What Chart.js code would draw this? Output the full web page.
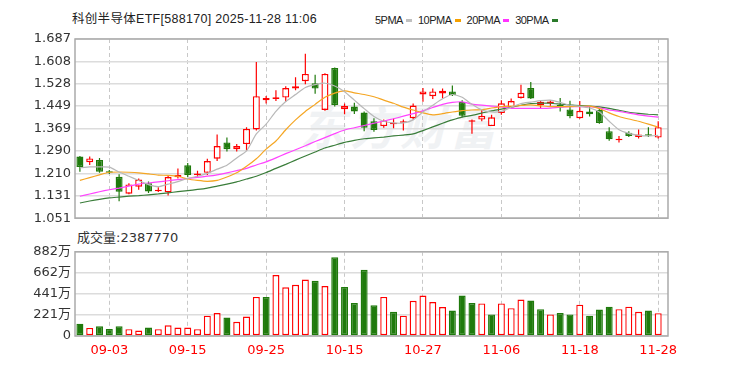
<!DOCTYPE html>
<html>
<head>
<meta charset="utf-8">
<script src="https://cdn.jsdelivr.net/npm/chart.js@4.4.1/dist/chart.umd.min.js"></script>
<style>
  body { margin: 0; background: #fff; width: 732px; height: 390px; overflow: hidden; position: relative; }
  .txt { position: absolute; white-space: nowrap; line-height: 1; color: #222; font-family: "Liberation Sans", "Noto Sans CJK SC", sans-serif; }
  #title { left: 72px; top: 13px; font-size: 12.5px; letter-spacing: 0.3px; }
  #legend { left: 375px; top: 15px; font-size: 11px; letter-spacing: -0.5px; }
  #legend i { display: inline-block; width: 6px; height: 3px; margin: 0 6px 2px 3px; vertical-align: middle; }
  #volLabel { left: 77px; top: 231px; font-size: 13px; font-family: "DejaVu Sans", "Noto Sans CJK SC", sans-serif; color: #333; }
  #mark { position: absolute; left: 300px; top: 92px; font: bold italic 46px "Noto Sans CJK SC", sans-serif; color: #f0f2f4; letter-spacing: 4px; }
  canvas { position: absolute; left: 0; }
  #priceChart { top: 0; }
  #volChart { top: 240px; }
</style>
</head>
<body>
<div id="mark">东方财富</div>
<div id="title" class="txt">科创半导体ETF[588170] 2025-11-28 11:06</div>
<div id="legend" class="txt">5PMA<i style="background:#c0c0c0"></i>10PMA<i style="background:#f5a000"></i>20PMA<i style="background:#ff33ff"></i>30PMA<i style="background:#2a7a2a"></i></div>
<div id="volLabel" class="txt">成交量:2387770</div>
<canvas id="priceChart" width="732" height="230"></canvas>
<canvas id="volChart" width="732" height="150"></canvas>
<script>
// 日期 (交易日)
const dates = ['08-29','09-01','09-02','09-03','09-04','09-05','09-08','09-09','09-10','09-11',
  '09-12','09-15','09-16','09-17','09-18','09-19','09-22','09-23','09-24','09-25',
  '09-26','09-29','09-30','10-09','10-10','10-13','10-14','10-15','10-16','10-17',
  '10-20','10-21','10-22','10-23','10-24','10-27','10-28','10-29','10-30','10-31',
  '11-03','11-04','11-05','11-06','11-07','11-10','11-11','11-12','11-13','11-14',
  '11-17','11-18','11-19','11-20','11-21','11-24','11-25','11-26','11-27','11-28'];

// K线
const opens = [1.270,1.250,1.258,1.218,1.198,1.138,1.163,1.175,1.147,1.143,
  1.196,1.239,1.204,1.212,1.262,1.320,1.296,1.314,1.366,1.470,
  1.474,1.479,1.511,1.537,1.530,1.435,1.584,1.438,1.447,1.426,
  1.395,1.378,1.384,1.390,1.406,1.490,1.484,1.494,1.501,1.464,
  1.393,1.401,1.378,1.424,1.444,1.478,1.513,1.453,1.458,1.453,
  1.437,1.406,1.430,1.435,1.360,1.328,1.354,1.339,1.348,1.337];
const highs = [1.272,1.270,1.265,1.222,1.207,1.175,1.192,1.181,1.161,1.204,
  1.227,1.247,1.219,1.262,1.348,1.337,1.314,1.374,1.605,1.485,
  1.505,1.519,1.551,1.635,1.560,1.565,1.586,1.458,1.461,1.430,
  1.406,1.401,1.405,1.401,1.458,1.513,1.511,1.511,1.522,1.470,
  1.401,1.435,1.418,1.470,1.476,1.525,1.534,1.470,1.470,1.478,
  1.468,1.467,1.447,1.441,1.374,1.343,1.360,1.366,1.374,1.395];
const lows = [1.216,1.240,1.212,1.208,1.111,1.136,1.152,1.140,1.144,1.132,
  1.192,1.196,1.196,1.204,1.254,1.288,1.288,1.291,1.362,1.458,
  1.467,1.464,1.505,1.526,1.493,1.432,1.447,1.420,1.421,1.360,
  1.358,1.372,1.370,1.362,1.401,1.464,1.474,1.476,1.485,1.409,
  1.351,1.395,1.378,1.418,1.441,1.476,1.474,1.439,1.450,1.430,
  1.406,1.404,1.412,1.386,1.326,1.320,1.339,1.334,1.339,1.334];
const closes = [1.233,1.263,1.216,1.212,1.145,1.171,1.188,1.146,1.151,1.197,
  1.204,1.204,1.208,1.254,1.307,1.296,1.307,1.368,1.484,1.478,
  1.480,1.513,1.519,1.563,1.511,1.563,1.453,1.449,1.430,1.372,
  1.364,1.397,1.384,1.393,1.451,1.501,1.501,1.503,1.487,1.415,
  1.396,1.414,1.409,1.459,1.467,1.496,1.476,1.464,1.465,1.444,
  1.413,1.432,1.420,1.389,1.331,1.333,1.343,1.348,1.344,1.374];

// 成交量 (万)
const volumes = [129,85,101,74,101,71,57,88,71,112,
  88,88,71,213,240,193,149,203,409,409,
  639,510,537,591,578,524,825,514,345,693,
  321,409,254,213,368,423,355,304,267,423,
  345,341,226,341,291,382,372,281,226,240,
  226,328,213,277,307,281,307,254,267,238.777];

// 均线
const ma5 = [1.230,1.233,1.233,1.232,1.215,1.200,1.185,1.170,1.163,1.172,
  1.181,1.192,1.200,1.210,1.225,1.239,1.265,1.290,1.350,1.385,
  1.430,1.465,1.490,1.515,1.525,1.530,1.520,1.500,1.470,1.440,
  1.412,1.395,1.389,1.389,1.400,1.428,1.452,1.475,1.490,1.480,
  1.455,1.435,1.428,1.430,1.445,1.458,1.463,1.468,1.470,1.462,
  1.452,1.448,1.442,1.428,1.395,1.365,1.352,1.345,1.343,1.345];
const ma10 = [1.185,1.195,1.205,1.214,1.215,1.214,1.212,1.208,1.204,1.203,
  1.200,1.190,1.185,1.182,1.185,1.197,1.212,1.235,1.262,1.296,
  1.325,1.365,1.400,1.430,1.455,1.480,1.495,1.503,1.496,1.490,
  1.482,1.470,1.459,1.445,1.435,1.425,1.418,1.422,1.428,1.433,
  1.435,1.436,1.442,1.447,1.449,1.451,1.453,1.450,1.447,1.447,
  1.447,1.448,1.449,1.440,1.425,1.412,1.403,1.395,1.385,1.374];
const ma20 = [1.129,1.137,1.145,1.152,1.158,1.165,1.172,1.176,1.180,1.184,
  1.188,1.192,1.196,1.200,1.205,1.212,1.220,1.228,1.240,1.251,
  1.265,1.280,1.294,1.308,1.323,1.337,1.351,1.364,1.372,1.380,
  1.388,1.396,1.404,1.413,1.422,1.432,1.444,1.455,1.462,1.464,
  1.456,1.452,1.449,1.446,1.441,1.441,1.441,1.441,1.442,1.445,
  1.447,1.447,1.447,1.443,1.435,1.430,1.424,1.418,1.413,1.410];
const ma30 = [1.105,1.112,1.118,1.123,1.126,1.129,1.131,1.134,1.137,1.141,
  1.145,1.149,1.153,1.158,1.165,1.172,1.180,1.190,1.200,1.213,
  1.228,1.242,1.257,1.272,1.286,1.300,1.310,1.320,1.327,1.333,
  1.336,1.339,1.343,1.346,1.350,1.362,1.375,1.388,1.400,1.410,
  1.416,1.424,1.432,1.438,1.445,1.452,1.458,1.459,1.459,1.456,
  1.453,1.451,1.449,1.446,1.441,1.434,1.427,1.423,1.420,1.418];

const priceTicks = [1.051,1.131,1.210,1.290,1.369,1.449,1.528,1.608,1.687];
const volTicks = [0,221,441,662,882];
const labelDays = ['09-03','09-15','09-25','10-15','10-27','11-06','11-18','11-28'];

const RED = '#ff0000', GREEN = '#1f7a0c';
const up = closes.map((c, i) => c >= opens[i]);
const volUp = closes.map((c, i) => i === 0 ? c >= opens[0] : c >= closes[i - 1]);
const tickIdx = labelDays.map(d => dates.indexOf(d));
const axisFont = { family: 'DejaVu Sans, "Noto Sans CJK SC"', size: 13 };

// 边框
const frame = {
  id: 'frame',
  afterDraw(chart) {
    const a = chart.chartArea, ctx = chart.ctx;
    ctx.save();
    ctx.strokeStyle = '#aaa';
    ctx.lineWidth = 1.5;
    ctx.strokeRect(a.left, a.top, a.right - a.left, a.bottom - a.top);
    ctx.restore();
  }
};

function xAxis(showLabels) {
  return {
    type: 'linear', min: -0.5, max: 60, offset: false,
    grid: { offset: false, color: '#c8c8c8', lineWidth: 1, drawTicks: false, borderDash: [4, 3] },
    border: { display: false, dash: [4, 3] },
    afterBuildTicks: s => { s.ticks = tickIdx.map(v => ({ value: v })); },
    ticks: { display: showLabels, autoSkip: false, maxRotation: 0, padding: 7, color: RED, font: axisFont,
      callback: v => dates[v] },
    afterFit: s => { s.height = showLabels ? 24 : 0; }
  };
}

function yAxis(min, max, ticks, fmt) {
  return {
    min: min, max: max,
    grid: { color: '#dcdcdc', lineWidth: 1.5, drawTicks: false },
    border: { display: false },
    afterBuildTicks: s => { s.ticks = ticks.map(v => ({ value: v })); },
    ticks: { padding: 4, color: '#333', font: axisFont, callback: fmt },
    afterFit: s => { s.width = 75; }
  };
}

const maLine = (label, data, color) => ({
  type: 'line', label: label, order: 0,
  data: data.map((v, i) => ({ x: i, y: v })),
  borderColor: color, borderWidth: 1.2, pointRadius: 0, tension: 0.2, fill: false
});

new Chart(document.getElementById('priceChart'), {
  type: 'bar',
  data: {
    datasets: [
      {
        label: 'wick', order: 3, grouped: false, barThickness: 1.2, inflateAmount: 0,
        data: dates.map((d, i) => ({ x: i, y: [lows[i], highs[i]] })),
        backgroundColor: up.map(u => u ? RED : GREEN)
      },
      {
        label: 'body', order: 2, grouped: false, barThickness: 7, inflateAmount: 0, minBarLength: 1.5,
        borderSkipped: false, borderWidth: 1.4,
        data: dates.map((d, i) => ({ x: i, y: [opens[i], closes[i]] })),
        backgroundColor: up.map((u, i) => u ? (Math.abs(closes[i] - opens[i]) < 0.006 ? RED : '#fff') : GREEN),
        borderColor: up.map(u => u ? RED : GREEN)
      },
      maLine('5PMA', ma5, '#b8b8b8'),
      maLine('10PMA', ma10, '#f5a623'),
      maLine('20PMA', ma20, '#ff44ff'),
      maLine('30PMA', ma30, '#3a7d3a')
    ]
  },
  options: {
    responsive: false, animation: false,
    layout: { padding: { top: 39, bottom: 8, left: 0, right: 64 } },
    plugins: { legend: { display: false }, tooltip: { enabled: false } },
    scales: {
      x: xAxis(false),
      y: yAxis(1.051, 1.687, priceTicks, v => v.toFixed(3))
    }
  },
  plugins: [frame]
});

new Chart(document.getElementById('volChart'), {
  type: 'bar',
  data: {
    datasets: [{
      label: '成交量', barThickness: 7, inflateAmount: 0, borderSkipped: false, borderWidth: 1.4,
      data: dates.map((d, i) => ({ x: i, y: volumes[i] })),
      backgroundColor: volUp.map(u => u ? '#fff' : GREEN),
      borderColor: volUp.map(u => u ? RED : GREEN)
    }]
  },
  options: {
    responsive: false, animation: false,
    layout: { padding: { top: 9, bottom: 30, left: 0, right: 64 } },
    plugins: { legend: { display: false }, tooltip: { enabled: false } },
    scales: {
      x: xAxis(true),
      y: yAxis(0, 882, volTicks, v => v === 0 ? '0' : v + '万')
    }
  },
  plugins: [frame]
});
</script>
</body>
</html>
